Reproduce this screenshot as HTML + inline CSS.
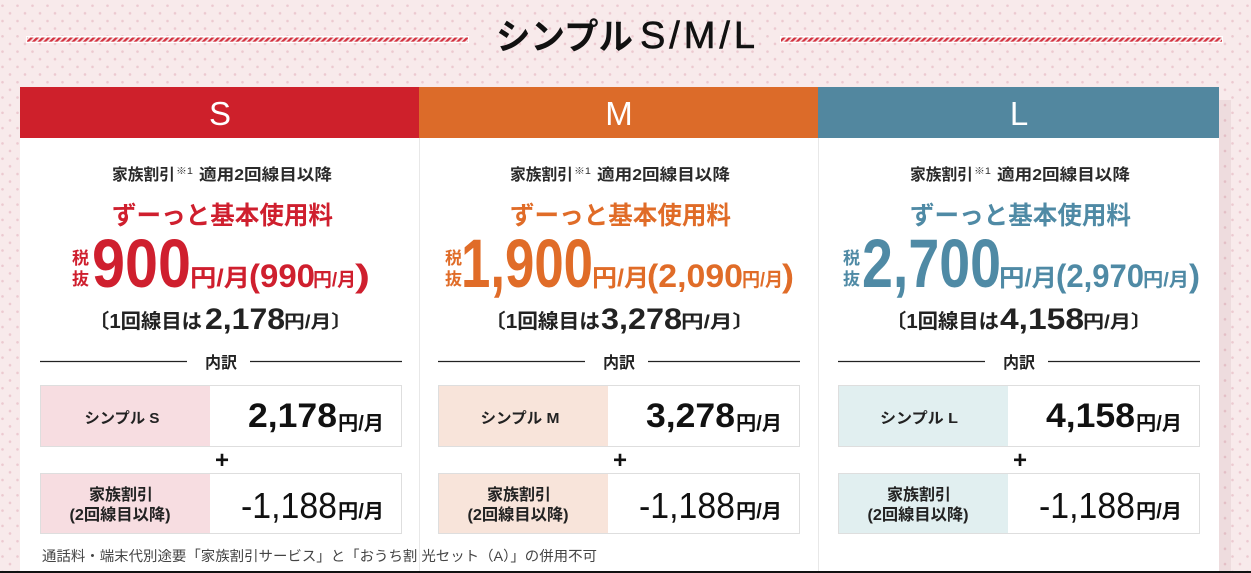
<!DOCTYPE html>
<html><head><meta charset="utf-8">
<style>
html,body{margin:0;padding:0;background:#f8eaeb;}
svg{display:block;}
text{font-family:"Liberation Sans","Noto Sans CJK JP",sans-serif;}
.b{font-weight:700;}
</style></head>
<body>
<svg width="1251" height="573" viewBox="0 0 1251 573" xmlns="http://www.w3.org/2000/svg">
<defs>
<pattern id="dots" patternUnits="userSpaceOnUse" width="15" height="15.3">
<rect width="15" height="15.3" fill="#f8eaeb"/>
<circle cx="10" cy="13.3" r="1.3" fill="#ecc9d0"/>
<circle cx="2.5" cy="5.7" r="1.3" fill="#ecc9d0"/>
</pattern>
<pattern id="stripe" patternUnits="userSpaceOnUse" width="4" height="4" patternTransform="rotate(45)">
<rect width="4" height="4" fill="#f6e4e6"/>
<rect width="2.2" height="4" fill="#d3303e"/>
</pattern>
</defs>

<rect width="1251" height="573" fill="url(#dots)"/>

<!-- stripe lines -->
<rect x="26" y="36" width="443" height="7" fill="#ffffff"/>
<rect x="27" y="37.5" width="441" height="4.2" fill="url(#stripe)"/>
<rect x="780" y="36" width="443" height="7" fill="#ffffff"/>
<rect x="781" y="37.5" width="441" height="4.2" fill="url(#stripe)"/>

<!-- title -->
<text x="496" y="49" font-size="36" class="b" fill="#111" textLength="137" lengthAdjust="spacingAndGlyphs">シンプル</text>
<text x="640" y="48" font-size="38" fill="#111" stroke="#111" stroke-width="0.6" textLength="115" lengthAdjust="spacing">S/M/L</text>

<!-- shadow -->
<rect x="1219" y="100" width="12" height="471" fill="#7a4050" fill-opacity="0.08"/>

<!-- headers -->
<rect x="20" y="87" width="399" height="51" fill="#ce202b"/>
<rect x="419" y="87" width="399" height="51" fill="#dc6b29"/>
<rect x="818" y="87" width="401" height="51" fill="#52879f"/>
<text x="220" y="125" font-size="33" fill="#fff" text-anchor="middle">S</text>
<text x="619" y="125" font-size="33" fill="#fff" text-anchor="middle">M</text>
<text x="1019" y="125" font-size="33" fill="#fff" text-anchor="middle">L</text>

<!-- card body -->
<rect x="20" y="138" width="1199" height="433" fill="#ffffff"/>
<line x1="419.5" y1="138" x2="419.5" y2="571" stroke="#e8e8e8" stroke-width="1"/>
<line x1="818.5" y1="138" x2="818.5" y2="571" stroke="#e8e8e8" stroke-width="1"/>

<!-- ============ S card shared ============ -->
<g>
<text x="112" y="180" font-size="16" class="b" fill="#2a2a2a" textLength="63" lengthAdjust="spacingAndGlyphs">家族割引</text>
<text x="176" y="174" font-size="9" fill="#2a2a2a" textLength="17" lengthAdjust="spacingAndGlyphs">※1</text>
<text x="199" y="180" font-size="16" class="b" fill="#2a2a2a" textLength="133" lengthAdjust="spacingAndGlyphs">適用2回線目以降</text>
<text x="112" y="224" font-size="25" class="b" fill="#cf1f2e" textLength="221" lengthAdjust="spacingAndGlyphs">ずーっと基本使用料</text>
<line x1="40" y1="361.5" x2="187" y2="361.5" stroke="#222" stroke-width="1.2"/>
<line x1="250" y1="361.5" x2="402" y2="361.5" stroke="#222" stroke-width="1.2"/>
<text x="221" y="368" font-size="16" class="b" fill="#222" text-anchor="middle">内訳</text>
<rect x="40.5" y="385.5" width="361" height="61" fill="#fff" stroke="#dedede"/>
<rect x="41" y="386" width="169" height="60" fill="#f7dde1"/>
<rect x="40.5" y="473.5" width="361" height="60" fill="#fff" stroke="#dedede"/>
<rect x="41" y="474" width="169" height="59" fill="#f7dde1"/>
<text x="122" y="423" font-size="15" class="b" fill="#222" text-anchor="middle" textLength="75" lengthAdjust="spacingAndGlyphs">シンプル S</text>
<text x="337" y="427" font-size="34" class="b" fill="#111" text-anchor="end" textLength="89" lengthAdjust="spacingAndGlyphs">2,178</text>
<text x="384" y="430" font-size="20" class="b" fill="#111" text-anchor="end" textLength="46" lengthAdjust="spacingAndGlyphs">円/月</text>
<text x="222" y="468" font-size="24" class="b" fill="#111" text-anchor="middle">+</text>
<text x="121" y="500" font-size="16" class="b" fill="#222" text-anchor="middle" textLength="64" lengthAdjust="spacingAndGlyphs">家族割引</text>
<text x="120" y="520" font-size="16" class="b" fill="#222" text-anchor="middle" textLength="101" lengthAdjust="spacingAndGlyphs">(2回線目以降)</text>
<text x="337" y="518" font-size="36" fill="#111" text-anchor="end" textLength="96" lengthAdjust="spacingAndGlyphs">-1,188</text>
<text x="384" y="518" font-size="20" class="b" fill="#111" text-anchor="end" textLength="46" lengthAdjust="spacingAndGlyphs">円/月</text>
</g>

<!-- ============ M card shared ============ -->
<g transform="translate(398,0)">
<text x="112" y="180" font-size="16" class="b" fill="#2a2a2a" textLength="63" lengthAdjust="spacingAndGlyphs">家族割引</text>
<text x="176" y="174" font-size="9" fill="#2a2a2a" textLength="17" lengthAdjust="spacingAndGlyphs">※1</text>
<text x="199" y="180" font-size="16" class="b" fill="#2a2a2a" textLength="133" lengthAdjust="spacingAndGlyphs">適用2回線目以降</text>
<text x="112" y="224" font-size="25" class="b" fill="#e06c28" textLength="221" lengthAdjust="spacingAndGlyphs">ずーっと基本使用料</text>
<line x1="40" y1="361.5" x2="187" y2="361.5" stroke="#222" stroke-width="1.2"/>
<line x1="250" y1="361.5" x2="402" y2="361.5" stroke="#222" stroke-width="1.2"/>
<text x="221" y="368" font-size="16" class="b" fill="#222" text-anchor="middle">内訳</text>
<rect x="40.5" y="385.5" width="361" height="61" fill="#fff" stroke="#dedede"/>
<rect x="41" y="386" width="169" height="60" fill="#f8e4da"/>
<rect x="40.5" y="473.5" width="361" height="60" fill="#fff" stroke="#dedede"/>
<rect x="41" y="474" width="169" height="59" fill="#f8e4da"/>
<text x="122" y="423" font-size="15" class="b" fill="#222" text-anchor="middle" textLength="79" lengthAdjust="spacingAndGlyphs">シンプル M</text>
<text x="337" y="427" font-size="34" class="b" fill="#111" text-anchor="end" textLength="89" lengthAdjust="spacingAndGlyphs">3,278</text>
<text x="384" y="430" font-size="20" class="b" fill="#111" text-anchor="end" textLength="46" lengthAdjust="spacingAndGlyphs">円/月</text>
<text x="222" y="468" font-size="24" class="b" fill="#111" text-anchor="middle">+</text>
<text x="121" y="500" font-size="16" class="b" fill="#222" text-anchor="middle" textLength="64" lengthAdjust="spacingAndGlyphs">家族割引</text>
<text x="120" y="520" font-size="16" class="b" fill="#222" text-anchor="middle" textLength="101" lengthAdjust="spacingAndGlyphs">(2回線目以降)</text>
<text x="337" y="518" font-size="36" fill="#111" text-anchor="end" textLength="96" lengthAdjust="spacingAndGlyphs">-1,188</text>
<text x="384" y="518" font-size="20" class="b" fill="#111" text-anchor="end" textLength="46" lengthAdjust="spacingAndGlyphs">円/月</text>
</g>

<!-- ============ L card shared ============ -->
<g transform="translate(798,0)">
<text x="112" y="180" font-size="16" class="b" fill="#2a2a2a" textLength="63" lengthAdjust="spacingAndGlyphs">家族割引</text>
<text x="176" y="174" font-size="9" fill="#2a2a2a" textLength="17" lengthAdjust="spacingAndGlyphs">※1</text>
<text x="199" y="180" font-size="16" class="b" fill="#2a2a2a" textLength="133" lengthAdjust="spacingAndGlyphs">適用2回線目以降</text>
<text x="112" y="224" font-size="25" class="b" fill="#4f8aa5" textLength="221" lengthAdjust="spacingAndGlyphs">ずーっと基本使用料</text>
<line x1="40" y1="361.5" x2="187" y2="361.5" stroke="#222" stroke-width="1.2"/>
<line x1="250" y1="361.5" x2="402" y2="361.5" stroke="#222" stroke-width="1.2"/>
<text x="221" y="368" font-size="16" class="b" fill="#222" text-anchor="middle">内訳</text>
<rect x="40.5" y="385.5" width="361" height="61" fill="#fff" stroke="#dedede"/>
<rect x="41" y="386" width="169" height="60" fill="#e1eff0"/>
<rect x="40.5" y="473.5" width="361" height="60" fill="#fff" stroke="#dedede"/>
<rect x="41" y="474" width="169" height="59" fill="#e1eff0"/>
<text x="121" y="423" font-size="15" class="b" fill="#222" text-anchor="middle" textLength="78" lengthAdjust="spacingAndGlyphs">シンプル L</text>
<text x="337" y="427" font-size="34" class="b" fill="#111" text-anchor="end" textLength="89" lengthAdjust="spacingAndGlyphs">4,158</text>
<text x="384" y="430" font-size="20" class="b" fill="#111" text-anchor="end" textLength="46" lengthAdjust="spacingAndGlyphs">円/月</text>
<text x="222" y="468" font-size="24" class="b" fill="#111" text-anchor="middle">+</text>
<text x="121" y="500" font-size="16" class="b" fill="#222" text-anchor="middle" textLength="64" lengthAdjust="spacingAndGlyphs">家族割引</text>
<text x="120" y="520" font-size="16" class="b" fill="#222" text-anchor="middle" textLength="101" lengthAdjust="spacingAndGlyphs">(2回線目以降)</text>
<text x="337" y="518" font-size="36" fill="#111" text-anchor="end" textLength="96" lengthAdjust="spacingAndGlyphs">-1,188</text>
<text x="384" y="518" font-size="20" class="b" fill="#111" text-anchor="end" textLength="46" lengthAdjust="spacingAndGlyphs">円/月</text>
</g>

<!-- ============ S price ============ -->
<g fill="#cf1f2e" class="b">
<text x="72" y="264" font-size="17" class="b">税</text>
<text x="72" y="285" font-size="17" class="b">抜</text>
<text x="92" y="287" font-size="69" class="b" textLength="99" lengthAdjust="spacingAndGlyphs">900</text>
<text x="190" y="286" font-size="24" class="b" textLength="60" lengthAdjust="spacingAndGlyphs">円/月</text>
<text x="249" y="287" font-size="32" class="b" textLength="66" lengthAdjust="spacingAndGlyphs">(990</text>
<text x="313" y="286" font-size="19" class="b" textLength="43" lengthAdjust="spacingAndGlyphs">円/月</text>
<text x="355" y="287" font-size="32" class="b" textLength="15" lengthAdjust="spacingAndGlyphs">)</text>
</g>
<g fill="#222">
<text x="89" y="328" font-size="20" class="b" textLength="113" lengthAdjust="spacingAndGlyphs">〔1回線目は</text>
<text x="205" y="329" font-size="30" class="b" textLength="80" lengthAdjust="spacingAndGlyphs">2,178</text>
<text x="284" y="328" font-size="18" class="b" textLength="68" lengthAdjust="spacingAndGlyphs">円/月〕</text>
</g>

<!-- ============ M price ============ -->
<g fill="#e06c28">
<text x="445" y="264" font-size="17" class="b">税</text>
<text x="445" y="285" font-size="17" class="b">抜</text>
<text x="461" y="287" font-size="69" class="b" textLength="132" lengthAdjust="spacingAndGlyphs">1,900</text>
<text x="592" y="286" font-size="24" class="b" textLength="57" lengthAdjust="spacingAndGlyphs">円/月</text>
<text x="647" y="287" font-size="32" class="b" textLength="96" lengthAdjust="spacingAndGlyphs">(2,090</text>
<text x="742" y="286" font-size="19" class="b" textLength="41" lengthAdjust="spacingAndGlyphs">円/月</text>
<text x="782" y="287" font-size="32" class="b" textLength="12" lengthAdjust="spacingAndGlyphs">)</text>
</g>
<g fill="#222">
<text x="485" y="328" font-size="20" class="b" textLength="115" lengthAdjust="spacingAndGlyphs">〔1回線目は</text>
<text x="601" y="329" font-size="30" class="b" textLength="81" lengthAdjust="spacingAndGlyphs">3,278</text>
<text x="681" y="328" font-size="18" class="b" textLength="74" lengthAdjust="spacingAndGlyphs">円/月〕</text>
</g>

<!-- ============ L price ============ -->
<g fill="#4f8aa5">
<text x="843" y="264" font-size="17" class="b">税</text>
<text x="843" y="285" font-size="17" class="b">抜</text>
<text x="862" y="287" font-size="69" class="b" textLength="139" lengthAdjust="spacingAndGlyphs">2,700</text>
<text x="999" y="286" font-size="24" class="b" textLength="58" lengthAdjust="spacingAndGlyphs">円/月</text>
<text x="1056" y="287" font-size="32" class="b" textLength="88" lengthAdjust="spacingAndGlyphs">(2,970</text>
<text x="1143" y="286" font-size="19" class="b" textLength="46" lengthAdjust="spacingAndGlyphs">円/月</text>
<text x="1189" y="287" font-size="32" class="b" textLength="11" lengthAdjust="spacingAndGlyphs">)</text>
</g>
<g fill="#222">
<text x="886" y="328" font-size="20" class="b" textLength="113" lengthAdjust="spacingAndGlyphs">〔1回線目は</text>
<text x="1000" y="329" font-size="30" class="b" textLength="84" lengthAdjust="spacingAndGlyphs">4,158</text>
<text x="1083" y="328" font-size="18" class="b" textLength="69" lengthAdjust="spacingAndGlyphs">円/月〕</text>
</g>

<!-- footnote -->
<text x="42" y="561" font-size="14" fill="#444" textLength="555" lengthAdjust="spacingAndGlyphs">通話料・端末代別途要「家族割引サービス」と「おうち割 光セット（A）」の併用不可</text>

<!-- bottom edge -->
<rect x="0" y="571" width="1251" height="2" fill="#111"/>
</svg>
</body></html>
